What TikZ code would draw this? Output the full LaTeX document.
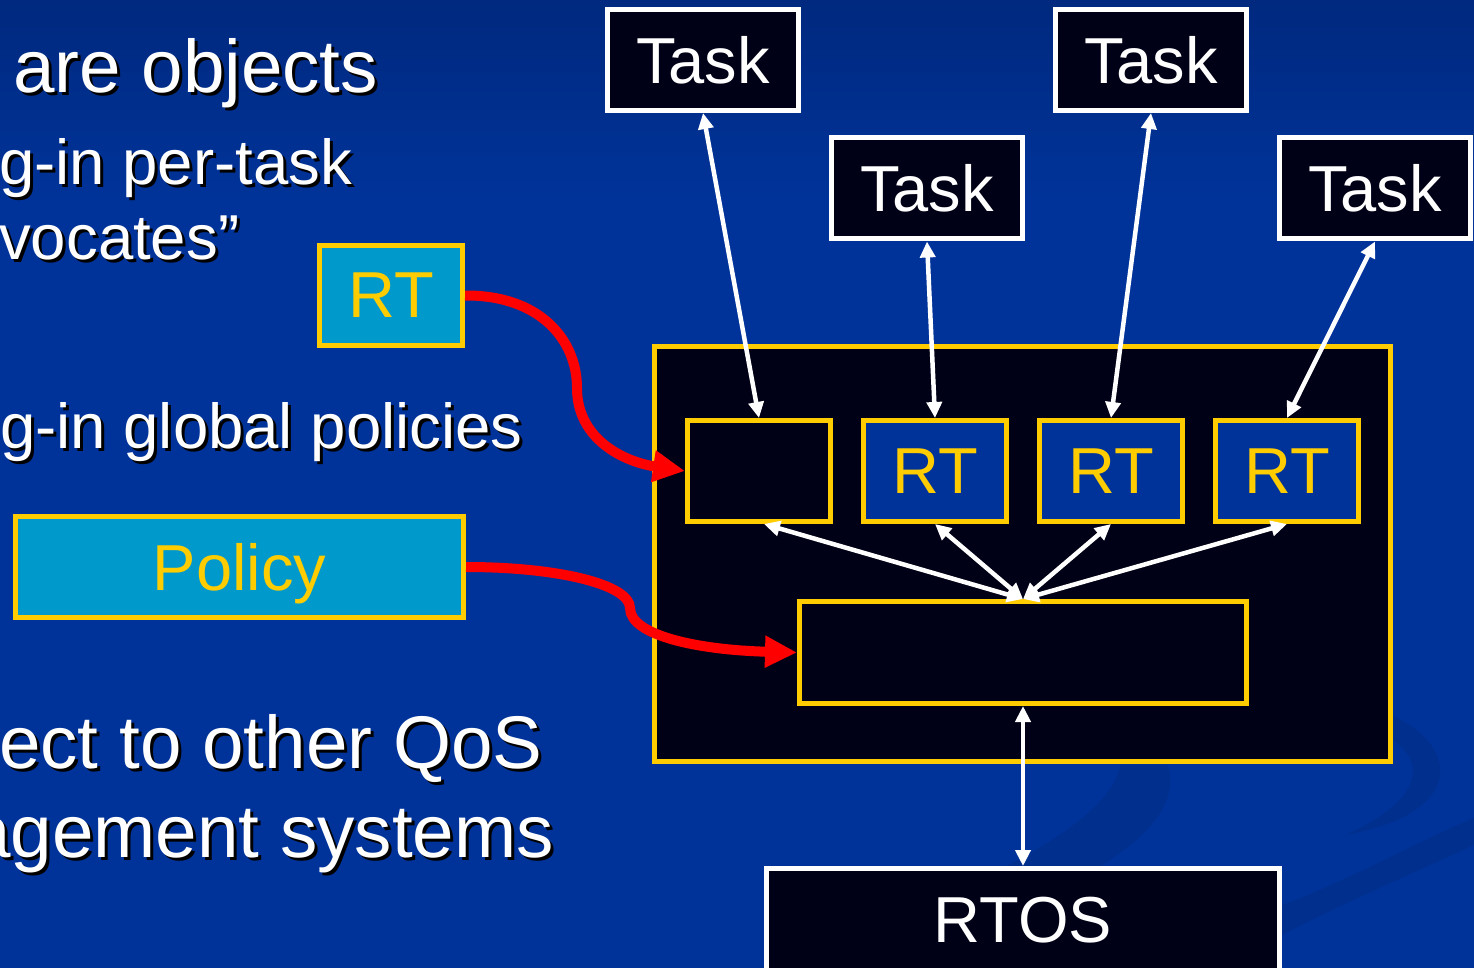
\documentclass[tikz,border=0pt]{standalone}
\usepackage{fontspec}
\setmainfont{Liberation Sans}
\usetikzlibrary{arrows.meta}
\definecolor{bg}{HTML}{003399}
\definecolor{bgtop}{HTML}{00297F}
\definecolor{swoosh}{HTML}{002F8E}
\definecolor{boxdark}{HTML}{000016}
\definecolor{gold}{HTML}{FFCC00}
\definecolor{cyanbox}{HTML}{0099CC}
\definecolor{redarrow}{HTML}{FF0000}
\tikzset{
  boxfont/.style={font=\fontsize{65}{72}\selectfont},
  taskbox/.style={draw=white, fill=boxdark, line width=5pt, inner sep=0pt,
    minimum width=191pt, minimum height=101pt, text=white, boxfont},
  goldbox/.style={draw=gold, fill=boxdark, line width=5pt, inner sep=0pt},
  rtbox/.style={goldbox, fill=bg, minimum width=143pt, minimum height=101pt,
    text=gold, boxfont},
  plugbox/.style={goldbox, fill=cyanbox, text=gold, boxfont, text depth=0pt},
  bigtext/.style={font=\fontsize{74.6}{80}\selectfont},
  smalltext/.style={font=\fontsize{63.5}{70}\selectfont},
  bodytext/.style={anchor=base west, inner sep=0pt, text=white},
  shadowtext/.style={anchor=base west, inner sep=0pt, text=black},
  wlink/.style={draw=white, line width=4.5pt,
    {Triangle[length=16pt,width=15pt]}-{Triangle[length=16pt,width=15pt]}},
  rlink/.style={draw=redarrow, line width=10pt,
    -{Triangle[length=32pt,width=30pt]}},
}
\newcommand{\slidetext}[5]{%
  \node[shadowtext,#4] (#1s) at (#2+3,#3+3) {#5};
  \node[bodytext,#4] (#1) at (#2,#3) {#5};}
\begin{document}
\begin{tikzpicture}[x=1pt,y=-1pt]
\useasboundingbox (0,0) rectangle (1474,968);
\clip (0,0) rectangle (1474,968);
% background
\fill[bg] (0,0) rectangle (1474,968);
\shade[top color=bgtop, bottom color=bg] (0,0) rectangle (1474,200);
\fill[swoosh] (760,968) .. controls (950,900) and (1110,830) .. (1120,765)
  -- (1168,765) .. controls (1190,840) and (1050,900) .. (880,968) -- cycle;
\fill[swoosh] (1392,715) .. controls (1465,750) and (1460,815) .. (1345,835)
  .. controls (1425,800) and (1425,760) .. (1392,740) -- cycle;
\fill[swoosh] (1282,905) .. controls (1350,880) and (1420,840) .. (1474,818)
  -- (1474,845) .. controls (1420,870) and (1350,900) .. (1282,935) -- cycle;

% left text
\slidetext{t1}{13}{93}{bigtext}{are objects}
\slidetext{t2}{-1}{185}{smalltext}{g-in per-task}
\slidetext{t3}{-1}{259}{smalltext}{vocates”}
\slidetext{t4}{0}{448}{smalltext}{g-in global policies}
\slidetext{t5}{-1}{768}{bigtext}{ect to other QoS}
\slidetext{t6}{-31}{857}{bigtext}{agement systems}

% plug-in boxes
\node[plugbox, minimum width=143pt, minimum height=100pt] (rtleft) at (391,295.5) {RT};
\node[plugbox, minimum width=448pt, minimum height=101pt] (policy) at (239.5,567) {Policy};

% framework
\node[goldbox, minimum width=736pt, minimum height=415pt] (big) at (1022.5,554) {};
\node[goldbox, minimum width=143pt, minimum height=101pt] (empty) at (759,471) {};
\node[rtbox] (rt1) at (935,471) {RT};
\node[rtbox] (rt2) at (1111,471) {RT};
\node[rtbox] (rt3) at (1287,471) {RT};
\node[goldbox, minimum width=447pt, minimum height=102pt] (bottom) at (1023,652.5) {};

% tasks
\node[taskbox] (task1) at (703,60) {Task};
\node[taskbox] (task2) at (927,188.5) {Task};
\node[taskbox] (task3) at (1151,60) {Task};
\node[taskbox] (task4) at (1375,188.5) {Task};

% RTOS
\node[taskbox, minimum width=513pt, minimum height=131pt] (rtos) at (1023,934) {};
\node[text=white, boxfont, inner sep=0pt] (rtoslabel) at (1023,920) {RTOS};

% white links
\draw[wlink] (task1.south) -- (empty.north);
\draw[wlink] (task2.south) -- (rt1.north);
\draw[wlink] (task3.south) -- (rt2.north);
\draw[wlink] (task4.south) -- (rt3.north);
\draw[wlink] ([xshift=5pt]empty.south) -- (bottom.north);
\draw[wlink] (rt1.south) -- (bottom.north);
\draw[wlink] (rt2.south) -- (bottom.north);
\draw[wlink] (rt3.south) -- (bottom.north);
\draw[wlink] (bottom.south) -- (rtos.north);

% red plug-in arrows
\draw[rlink] (rtleft.east) .. controls (540,295) and (577,340) .. (577,388)
  .. controls (577,440) and (625,462) .. (empty.west);
\draw[rlink] (policy.east) .. controls (560,567) and (630,585) .. (630,608)
  .. controls (630,636) and (700,650) .. (bottom.west);
\end{tikzpicture}
\end{document}
